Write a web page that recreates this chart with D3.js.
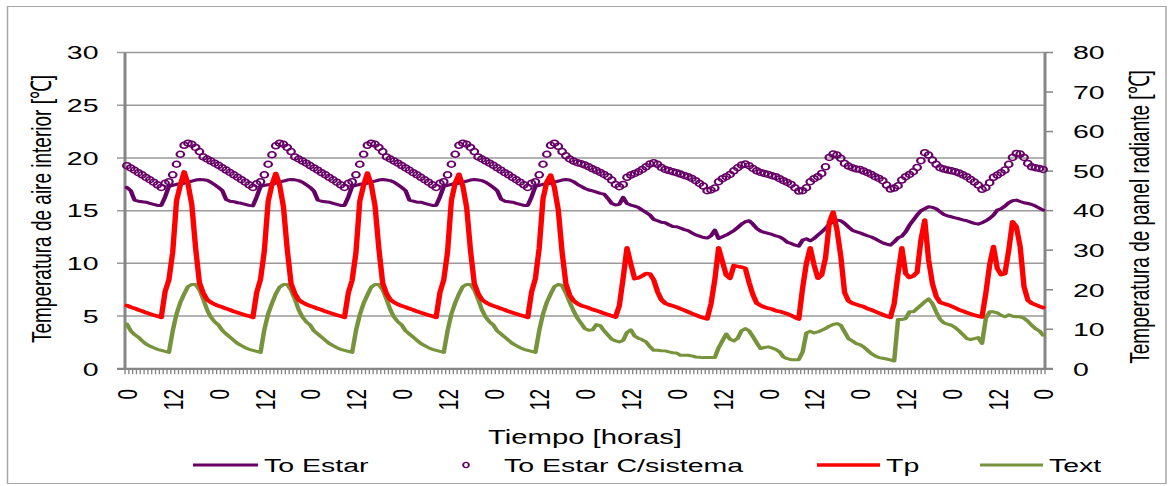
<!DOCTYPE html>
<html>
<head>
<meta charset="utf-8">
<script src="https://cdn.jsdelivr.net/npm/d3@7"></script>
<style>
  html, body { margin: 0; padding: 0; background: #ffffff; }
  svg { display: block; }
  text { font-family: "Liberation Sans", Arial, sans-serif; fill: #000; }
</style>
</head>
<body>
<svg id="chart"></svg>
<script>
// Hourly readings over ten days (hour 0 .. 240)

const hourLabels = ["0","12","0","12","0","12","0","12","0","12","0",
                    "12","0","12","0","12","0","12","0","12","0"];

const leftTicks = [0, 5, 10, 15, 20, 25, 30];
const rightTicks = [0, 10, 20, 30, 40, 50, 60, 70, 80];

// Indoor air temperature, living room [°C]
const toEstar = [
  17.2, 16.9, 16.0, 15.9, 15.85, 15.8, 15.7, 15.6, 15.5, 15.5, 16.3, 17.3, 17.4, 17.5, 17.55, 17.6, 17.7, 17.8, 17.9, 17.95, 17.93, 17.88, 17.7, 17.45,
  17.2, 16.9, 16.05, 15.9, 15.85, 15.75, 15.7, 15.6, 15.5, 15.45, 16.3, 17.3, 17.4, 17.45, 17.5, 17.6, 17.7, 17.8, 17.9, 17.95, 17.92, 17.85, 17.7, 17.45,
  17.2, 16.85, 16.0, 15.9, 15.85, 15.8, 15.7, 15.6, 15.5, 15.5, 16.3, 17.3, 17.4, 17.5, 17.55, 17.6, 17.7, 17.8, 17.9, 17.95, 17.9, 17.85, 17.7, 17.45,
  17.2, 16.9, 16.0, 15.9, 15.8, 15.8, 15.7, 15.6, 15.5, 15.5, 16.3, 17.3, 17.4, 17.5, 17.55, 17.6, 17.7, 17.8, 17.9, 17.95, 17.9, 17.85, 17.7, 17.45,
  17.2, 16.9, 16.1, 15.9, 15.85, 15.8, 15.7, 15.6, 15.5, 15.5, 16.3, 17.3, 17.4, 17.5, 17.55, 17.6, 17.7, 17.8, 17.9, 17.95, 17.9, 17.75, 17.5, 17.3,
  17.1, 16.96, 16.87, 16.76, 16.64, 16.57, 16.16, 15.68, 15.53, 15.6, 16.26, 15.68, 15.53, 15.43, 15.3, 15.05, 14.83, 14.58, 14.17, 14.04, 13.9, 13.85, 13.66, 13.5,
  13.47, 13.35, 13.2, 13.1, 12.9, 12.7, 12.58, 12.45, 12.4, 12.6, 13.15, 12.36, 12.52, 12.68, 12.9, 13.1, 13.4, 13.72, 13.95, 14.04, 13.72, 13.31, 13.06, 12.95,
  12.84, 12.74, 12.61, 12.52, 12.3, 12.0, 11.89, 11.73, 11.63, 12.2, 12.33, 12.14, 12.36, 12.68, 12.99, 13.31, 13.72, 13.95, 14.1, 14.04, 13.79, 13.47, 13.15, 13.0,
  12.9, 12.75, 12.62, 12.5, 12.33, 12.14, 11.95, 11.82, 11.73, 12.04, 12.42, 12.58, 12.99, 13.62, 14.1, 14.58, 14.99, 15.18, 15.37, 15.31, 15.18, 14.9, 14.64, 14.51,
  14.42, 14.32, 14.23, 14.13, 14.04, 13.91, 13.79, 13.72, 13.85, 14.04, 14.26, 14.58, 15.05, 15.18, 15.43, 15.75, 15.94, 16.0, 15.87, 15.75, 15.68, 15.59, 15.43, 15.24,
  15.05
];

// Indoor air temperature with the heating system running [°C]
const toEstarSistema = [
  19.27, 19.05, 18.83, 18.6, 18.4, 18.15, 17.93, 17.7, 17.45, 17.2, 17.6, 17.75, 18.4, 19.4, 20.35, 21.2, 21.4, 21.3, 21.0, 20.6, 20.1, 19.9, 19.7, 19.5,
  19.3, 19.07, 18.85, 18.62, 18.4, 18.17, 17.94, 17.7, 17.45, 17.2, 17.55, 17.75, 18.4, 19.4, 20.3, 21.15, 21.4, 21.3, 21.0, 20.6, 20.1, 19.9, 19.7, 19.5,
  19.28, 19.05, 18.84, 18.6, 18.4, 18.15, 17.93, 17.7, 17.45, 17.2, 17.6, 17.75, 18.4, 19.4, 20.35, 21.2, 21.4, 21.3, 21.0, 20.6, 20.1, 19.9, 19.7, 19.5,
  19.28, 19.05, 18.83, 18.6, 18.4, 18.16, 17.93, 17.7, 17.45, 17.2, 17.6, 17.75, 18.4, 19.4, 20.35, 21.2, 21.4, 21.3, 21.0, 20.6, 20.1, 19.9, 19.7, 19.5,
  19.3, 19.06, 18.84, 18.6, 18.4, 18.15, 17.93, 17.7, 17.45, 17.2, 17.6, 17.75, 18.4, 19.4, 20.35, 21.2, 21.4, 21.1, 20.6, 20.2, 19.9, 19.7, 19.55, 19.45,
  19.32, 19.16, 18.97, 18.8, 18.63, 18.44, 18.22, 17.9, 17.49, 17.27, 17.49, 18.16, 18.37, 18.53, 18.69, 18.91, 19.16, 19.42, 19.55, 19.39, 19.1, 18.91, 18.8, 18.7,
  18.6, 18.47, 18.34, 18.22, 18.06, 17.84, 17.58, 17.33, 16.89, 16.96, 17.14, 17.74, 18.03, 18.22, 18.44, 18.78, 19.07, 19.32, 19.42, 19.26, 19.0, 18.78, 18.63, 18.53,
  18.44, 18.31, 18.22, 18.03, 17.84, 17.68, 17.49, 17.17, 16.86, 16.89, 17.17, 17.74, 18.03, 18.22, 18.53, 19.16, 20.05, 20.37, 20.27, 19.96, 19.48, 19.23, 19.07, 18.95,
  18.91, 18.75, 18.6, 18.44, 18.22, 18.06, 17.84, 17.43, 17.05, 17.14, 17.36, 17.9, 18.22, 18.44, 18.69, 19.1, 19.74, 20.5, 20.27, 19.8, 19.39, 19.07, 18.94, 18.85,
  18.78, 18.69, 18.56, 18.4, 18.22, 17.96, 17.71, 17.43, 17.02, 17.17, 17.65, 18.16, 18.37, 18.6, 18.85, 19.39, 20.05, 20.43, 20.37, 20.05, 19.48, 19.16, 19.07, 19.0,
  18.91
];

// Radiant panel temperature [°C] (right axis)
const tp = [
  16.0, 15.6, 15.3, 14.9, 14.6, 14.2, 13.9, 13.6, 13.3, 13.0, 19.5, 22.5, 29.5, 42.5, 46.5, 49.8, 46.8, 41.5, 30.5, 21.8, 19.1, 17.5, 16.8, 16.3,
  15.9, 15.6, 15.2, 14.9, 14.5, 14.2, 13.9, 13.6, 13.3, 13.0, 19.3, 22.6, 29.8, 42.3, 46.6, 49.4, 46.5, 41.0, 30.2, 21.6, 19.0, 17.4, 16.8, 16.3,
  15.9, 15.6, 15.2, 14.9, 14.5, 14.2, 13.9, 13.6, 13.3, 13.0, 19.2, 22.4, 29.4, 42.4, 46.4, 49.5, 46.6, 41.2, 30.4, 21.7, 19.0, 17.5, 16.8, 16.3,
  15.9, 15.6, 15.2, 14.9, 14.5, 14.2, 13.9, 13.6, 13.3, 13.0, 19.3, 22.5, 29.6, 42.6, 47.0, 49.2, 46.2, 40.8, 30.0, 21.6, 19.0, 17.5, 16.8, 16.3,
  15.9, 15.6, 15.2, 14.9, 14.5, 14.2, 13.9, 13.6, 13.3, 13.0, 19.4, 22.8, 30.5, 43.0, 47.3, 49.0, 45.8, 40.2, 29.5, 21.5, 18.6, 17.2, 16.5, 16.0,
  15.7, 15.4, 15.0, 14.7, 14.4, 14.0, 13.7, 13.4, 13.1, 16.0, 23.0, 30.6, 26.5, 22.8, 23.0, 23.5, 24.1, 24.0, 22.5, 19.5, 17.5, 16.6, 16.2, 15.9,
  15.6, 15.2, 14.8, 14.4, 14.0, 13.6, 13.2, 12.9, 12.6, 16.4, 22.5, 30.6, 27.1, 23.7, 22.9, 26.1, 25.9, 25.7, 25.4, 21.8, 18.7, 16.6, 16.0, 15.6,
  15.3, 15.1, 14.7, 14.5, 14.2, 13.9, 13.5, 13.0, 12.6, 20.4, 26.7, 30.6, 26.3, 22.9, 23.7, 28.0, 37.0, 39.6, 35.2, 28.5, 19.3, 17.2, 16.6, 16.3,
  16.0, 15.7, 15.2, 14.9, 14.5, 14.1, 13.7, 13.3, 13.0, 16.5, 24.0, 30.6, 24.1, 23.1, 23.5, 24.4, 32.6, 37.6, 27.6, 21.6, 18.3, 16.8, 16.5, 16.2,
  15.8, 15.4, 14.9, 14.6, 14.2, 13.9, 13.6, 13.3, 13.1, 19.1, 26.3, 30.9, 25.4, 23.8, 24.1, 30.0, 37.2, 35.9, 30.9, 20.8, 17.4, 16.6, 16.2, 15.8,
  15.5
];

// Outdoor temperature [°C]
const tExt = [
  4.25, 3.6, 3.25, 3.0, 2.65, 2.35, 2.15, 2.0, 1.85, 1.75, 1.65, 1.55, 3.6, 5.2, 6.3, 7.1, 7.8, 8.0, 8.0, 7.5, 6.6, 5.6, 4.9, 4.45,
  4.15, 3.65, 3.3, 3.0, 2.7, 2.4, 2.2, 2.0, 1.85, 1.75, 1.65, 1.55, 3.7, 5.2, 6.2, 7.1, 7.75, 8.0, 8.0, 7.45, 6.6, 5.6, 4.9, 4.45,
  4.15, 3.6, 3.3, 3.0, 2.7, 2.4, 2.2, 2.0, 1.85, 1.75, 1.65, 1.55, 3.6, 5.1, 6.2, 7.0, 7.75, 8.0, 8.0, 7.5, 6.6, 5.6, 4.9, 4.45,
  4.15, 3.6, 3.3, 3.0, 2.7, 2.4, 2.2, 2.0, 1.85, 1.75, 1.65, 1.55, 3.6, 5.2, 6.25, 7.1, 7.8, 8.0, 8.0, 7.5, 6.6, 5.6, 4.9, 4.45,
  4.15, 3.6, 3.3, 3.0, 2.7, 2.4, 2.2, 2.0, 1.85, 1.75, 1.65, 1.55, 3.6, 5.2, 6.3, 7.1, 7.8, 8.0, 7.9, 7.2, 6.3, 5.5, 4.8, 4.3,
  3.8, 3.65, 3.7, 4.2, 4.1, 3.6, 3.2, 2.8, 2.65, 2.55, 2.7, 3.45, 3.7, 3.1, 2.9, 2.75, 2.55, 2.1, 1.75, 1.75, 1.72, 1.7, 1.6, 1.52,
  1.5, 1.28, 1.28, 1.28, 1.22, 1.12, 1.09, 1.06, 1.06, 1.06, 1.06, 2.0, 2.65, 3.3, 2.8, 2.65, 2.9, 3.6, 3.82, 3.6, 3.05, 2.46, 1.92, 2.02,
  2.08, 1.98, 1.83, 1.6, 1.12, 0.96, 0.87, 0.87, 0.87, 1.6, 3.4, 3.56, 3.4, 3.5, 3.66, 3.82, 4.04, 4.2, 4.29, 4.13, 3.5, 2.87, 2.65, 2.4,
  2.3, 2.08, 1.76, 1.44, 1.22, 1.06, 1.0, 0.93, 0.84, 0.74, 4.67, 4.67, 4.77, 5.4, 5.4, 5.72, 6.03, 6.35, 6.63, 6.19, 5.4, 4.7, 4.36, 4.23,
  4.13, 3.91, 3.6, 3.25, 2.87, 2.78, 2.87, 2.96, 2.4, 4.77, 5.4, 5.4, 5.3, 5.08, 4.93, 5.12, 4.99, 4.93, 4.93, 4.8, 4.51, 4.13, 3.82, 3.6,
  3.18
];

// ---- layout ----
const W = 1174, H = 486;
const SX = 1.5;                 // the drawing is widened horizontally
const px = v => v / SX;         // screen x -> drawing units

const svg = d3.select("#chart")
  .attr("width", W).attr("height", H)
  .attr("viewBox", `0 0 ${W / SX} ${H}`)
  .attr("preserveAspectRatio", "none");

const plot = { left: px(125), right: px(1045), top: 52.5, bottom: 368.8 };
const hours = d3.range(toEstar.length);

const x = d3.scalePoint().domain(hours).range([plot.left, plot.right]).padding(0.5);
const xb = d3.scaleBand().domain(hours).range([plot.left, plot.right]);
const yL = d3.scaleLinear().domain([0, 30]).range([plot.bottom, plot.top]);
const yR = d3.scaleLinear().domain([0, 80]).range([plot.bottom, plot.top]);

const axisGrey = "#868686";
const gridGrey = "#9a9a9a";

// outer frame
svg.append("rect")
  .attr("x", px(7.5)).attr("y", 6.5)
  .attr("width", px(1166 - 7.5)).attr("height", 477)
  .attr("fill", "none").attr("stroke", "#a8a8a8").attr("stroke-width", 1);

// horizontal gridlines (left scale) with outward ticks
svg.append("g").selectAll("line")
  .data(leftTicks.filter(t => t > 0))
  .join("line")
  .attr("x1", px(117)).attr("x2", plot.right)
  .attr("y1", d => yL(d)).attr("y2", d => yL(d))
  .attr("stroke", gridGrey).attr("stroke-width", 1.5);

// right axis ticks
svg.append("g").selectAll("line")
  .data(rightTicks)
  .join("line")
  .attr("x1", plot.right).attr("x2", px(1053))
  .attr("y1", d => yR(d)).attr("y2", d => yR(d))
  .attr("stroke", axisGrey).attr("stroke-width", 1.5);

// vertical axis lines
[plot.left, plot.right].forEach(xx => {
  svg.append("line")
    .attr("x1", xx).attr("x2", xx)
    .attr("y1", plot.top).attr("y2", plot.bottom)
    .attr("stroke", axisGrey).attr("stroke-width", 2);
});

// category axis: line and hourly tick marks
svg.append("line")
  .attr("x1", px(117)).attr("x2", px(1053))
  .attr("y1", plot.bottom).attr("y2", plot.bottom)
  .attr("stroke", axisGrey).attr("stroke-width", 2.2);

const boundaries = hours.map(h => xb(h)).concat([plot.right]);
svg.append("g").selectAll("line")
  .data(boundaries)
  .join("line")
  .attr("x1", d => d).attr("x2", d => d)
  .attr("y1", plot.bottom).attr("y2", plot.bottom + 5.5)
  .attr("stroke", axisGrey).attr("stroke-width", 0.9);

// left tick labels
svg.append("g").selectAll("text")
  .data(leftTicks)
  .join("text")
  .attr("x", px(98.5)).attr("y", d => yL(d))
  .attr("dy", "0.36em")
  .attr("text-anchor", "end")
  .attr("font-size", 19)
  .text(d => d);

// right tick labels
svg.append("g").selectAll("text")
  .data(rightTicks)
  .join("text")
  .attr("x", px(1073)).attr("y", d => yR(d))
  .attr("dy", "0.36em")
  .attr("text-anchor", "start")
  .attr("font-size", 19)
  .text(d => d);

// hour labels, every 12 hours, rotated
svg.append("g").selectAll("text")
  .data(hourLabels)
  .join("text")
  .attr("transform", (d, k) => `translate(${x(k * 12)},389) rotate(-90)`)
  .attr("dy", "0.36em")
  .attr("text-anchor", "end")
  .attr("font-size", 19)
  .text(d => d);

// axis titles
svg.append("text")
  .attr("transform", `translate(${px(51.5)},209) rotate(-90)`)
  .attr("text-anchor", "middle")
  .attr("font-size", 19)
  .text("Temperatura de aire interior [℃]");

svg.append("text")
  .attr("transform", `translate(${px(1148.5)},217) rotate(-90)`)
  .attr("text-anchor", "middle")
  .attr("font-size", 19)
  .text("Temperatura de panel radiante [℃]");

svg.append("text")
  .attr("x", px(585)).attr("y", 444)
  .attr("text-anchor", "middle")
  .attr("font-size", 19.5)
  .text("Tiempo [horas]");

// ---- series ----
const colEstar = "#660066";
const colTp = "#ff0000";
const colExt = "#77933c";

const lineL = d3.line().x((d, i) => x(i)).y(d => yL(d));
const lineR = d3.line().x((d, i) => x(i)).y(d => yR(d));

svg.append("path").datum(toEstar)
  .attr("d", lineL).attr("fill", "none")
  .attr("stroke", colEstar).attr("stroke-width", 3)
  .attr("stroke-linejoin", "round").attr("stroke-linecap", "round");

svg.append("g").selectAll("ellipse")
  .data(toEstarSistema)
  .join("ellipse")
  .attr("cx", (d, i) => x(i)).attr("cy", d => yL(d))
  .attr("rx", 2.5).attr("ry", 3.0)
  .attr("fill", "none")
  .attr("stroke", colEstar).attr("stroke-width", 1.5);

svg.append("path").datum(tExt)
  .attr("d", lineL).attr("fill", "none")
  .attr("stroke", colExt).attr("stroke-width", 3)
  .attr("stroke-linejoin", "round").attr("stroke-linecap", "round");

svg.append("path").datum(tp)
  .attr("d", lineR).attr("fill", "none")
  .attr("stroke", colTp).attr("stroke-width", 3.6)
  .attr("stroke-linejoin", "round").attr("stroke-linecap", "round");

// ---- legend ----
const legY = 465;
const legend = svg.append("g");

function legendLine(x1, x2, color, w) {
  legend.append("line")
    .attr("x1", px(x1)).attr("x2", px(x2))
    .attr("y1", legY).attr("y2", legY)
    .attr("stroke", color).attr("stroke-width", w);
}
function legendText(x0, label) {
  legend.append("text")
    .attr("x", px(x0)).attr("y", legY)
    .attr("dy", "0.36em")
    .attr("font-size", 19)
    .text(label);
}

legendLine(193, 258, colEstar, 3);
legendText(264, "To Estar");

legend.append("ellipse")
  .attr("cx", px(466)).attr("cy", legY)
  .attr("rx", 1.9).attr("ry", 2.6)
  .attr("fill", "none").attr("stroke", colEstar).attr("stroke-width", 1.3);
legendText(504, "To Estar C/sistema");

legendLine(817, 880, colTp, 3.6);
legendText(886, "Tp");

legendLine(980, 1043, colExt, 3);
legendText(1049, "Text");
</script>
</body>
</html>
